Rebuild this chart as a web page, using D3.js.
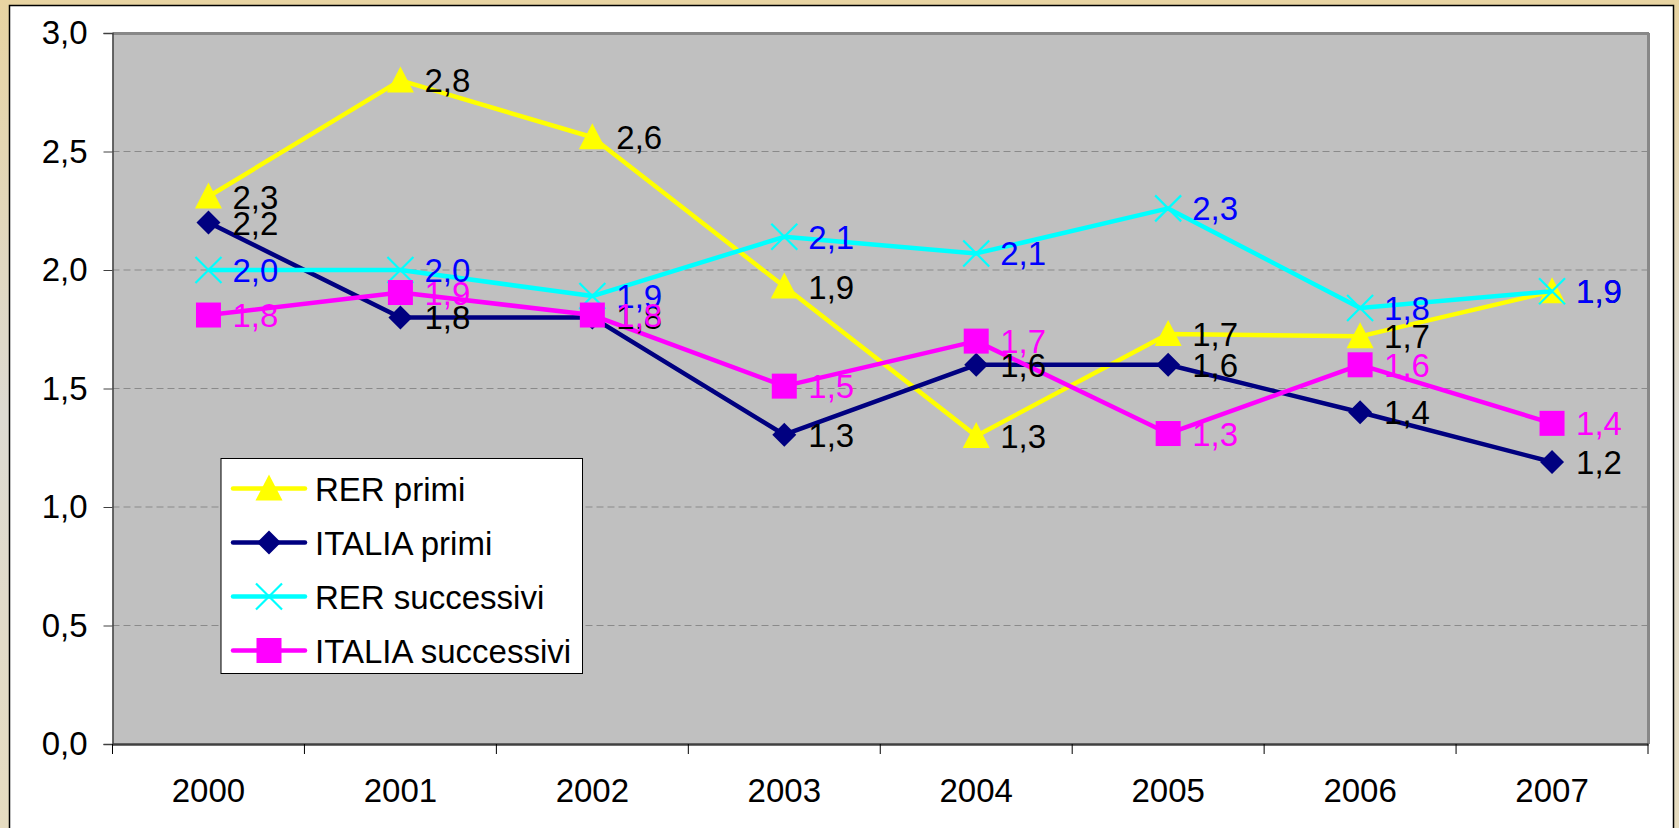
<!DOCTYPE html>
<html><head><meta charset="utf-8">
<script src="https://cdn.jsdelivr.net/npm/d3@7"></script>
<style>
html,body{margin:0;padding:0;}
body{width:1679px;height:828px;overflow:hidden;}
svg{display:block;}
</style></head>
<body>
<svg id="chart" width="1679" height="828"></svg>
<script>
const years = ["2000","2001","2002","2003","2004","2005","2006","2007"];
const rerPrimi = [2.31, 2.80, 2.56, 1.93, 1.30, 1.73, 1.72, 1.91];
const italiaPrimi = [2.20, 1.80, 1.80, 1.305, 1.60, 1.60, 1.40, 1.19];
const rerSuccessivi = [2.00, 2.00, 1.89, 2.14, 2.07, 2.26, 1.84, 1.91];
const italiaSuccessivi = [1.81, 1.905, 1.81, 1.51, 1.70, 1.31, 1.60, 1.353];
const yTicks = [0, 0.5, 1.0, 1.5, 2.0, 2.5, 3.0];
const seriesNames = ["RER primi", "ITALIA primi", "RER successivi", "ITALIA successivi"];

const series = [
  {name: seriesNames[0], values: rerPrimi, color: "#ffff00", label: "#000000", marker: "triangle"},
  {name: seriesNames[1], values: italiaPrimi, color: "#000080", label: "#000000", marker: "diamond"},
  {name: seriesNames[2], values: rerSuccessivi, color: "#00ffff", label: "#0000ff", marker: "cross"},
  {name: seriesNames[3], values: italiaSuccessivi, color: "#ff00ff", label: "#ff00ff", marker: "square"}
];

const svg = d3.select("#chart");
const FONT = "'Liberation Sans', Arial, sans-serif";
const FS = 33;

// background gradient
const defs = svg.append("defs");
const grad = defs.append("linearGradient").attr("id","bg").attr("x1",0).attr("y1",0).attr("x2",0).attr("y2",1);
grad.append("stop").attr("offset","0%").attr("stop-color","#e8d4a2");
grad.append("stop").attr("offset","50%").attr("stop-color","#dddad2");
grad.append("stop").attr("offset","100%").attr("stop-color","#e6dcc0");
svg.append("rect").attr("width",1679).attr("height",828).attr("fill","url(#bg)");
// white chart panel
svg.append("rect").attr("x",9.5).attr("y",5.5).attr("width",1664).attr("height",830)
  .attr("fill","#ffffff").attr("stroke","#000").attr("stroke-width",1.5);

const L = 112.5, R = 1648, T = 33, B = 744;
const x = d3.scaleBand().domain(years).range([L, R]).padding(0);
const y = d3.scaleLinear().domain([0, 3]).range([B, T]);
const cx = d => x(d) + x.bandwidth()/2;

// plot area
svg.append("rect").attr("x",L).attr("y",T).attr("width",R-L).attr("height",B-T).attr("fill","#c0c0c0");

// gridlines
svg.append("g").selectAll("line").data(yTicks.filter(t => t > 0 && t < 3)).join("line")
  .attr("x1",L).attr("x2",R).attr("y1",d=>y(d)).attr("y2",d=>y(d))
  .attr("stroke","#8a8a8a").attr("stroke-width",1).attr("stroke-dasharray","7,4");

// plot border top/right
svg.append("line").attr("x1",L).attr("x2",R+1).attr("y1",T+0.5).attr("y2",T+0.5).attr("stroke","#888").attr("stroke-width",3);
svg.append("line").attr("x1",R+0.5).attr("x2",R+0.5).attr("y1",T).attr("y2",B).attr("stroke","#888").attr("stroke-width",3);

// y axis
const yAxis = d3.axisLeft(y).tickValues(yTicks).tickSize(9).tickPadding(16)
  .tickFormat(d => d3.format(".1f")(d).replace(".", ","));
const gy = svg.append("g").attr("transform",`translate(${L},0)`).call(yAxis);
gy.select(".domain").attr("stroke","#404040").attr("stroke-width",1.5);
gy.selectAll(".tick line").attr("stroke","#404040");
gy.selectAll("text").attr("font-family",FONT).attr("font-size",FS).attr("fill","#000");

// x axis
const xAxis = d3.axisBottom(x).tickSize(0).tickPadding(35);
const gx = svg.append("g").attr("transform",`translate(0,${B})`).call(xAxis);
gx.select(".domain").attr("stroke","#404040").attr("stroke-width",2.5);
gx.selectAll("text").attr("font-family",FONT).attr("font-size",FS).attr("fill","#000");
// category boundary ticks
const bounds = years.map(d => x(d)).concat([R]);
svg.append("g").selectAll("line").data(bounds).join("line")
  .attr("x1",d=>d).attr("x2",d=>d).attr("y1",B).attr("y2",B+10)
  .attr("stroke","#000").attr("stroke-width",1);

function drawMarker(g, type, color) {
  if (type === "triangle") {
    g.append("path").attr("d","M0,-14L13.5,12L-13.5,12Z").attr("fill",color);
  } else if (type === "diamond") {
    g.append("path").attr("d","M0,-12L12,0L0,12L-12,0Z").attr("fill",color);
  } else if (type === "square") {
    g.append("rect").attr("x",-12.5).attr("y",-12.5).attr("width",25).attr("height",25).attr("fill",color);
  } else if (type === "cross") {
    g.append("path").attr("d","M-13,-13L13,13M13,-13L-13,13").attr("stroke",color).attr("stroke-width",2.2).attr("fill","none");
  }
}

const line = d3.line().x((d,i)=>cx(years[i])).y(d=>y(d));
series.forEach(s => {
  svg.append("path").datum(s.values).attr("d",line).attr("fill","none")
    .attr("stroke",s.color).attr("stroke-width",4.5).attr("stroke-linejoin","round");
  s.values.forEach((v,i) => {
    const g = svg.append("g").attr("transform",`translate(${cx(years[i])},${y(v)})`);
    drawMarker(g, s.marker, s.color);
  });
});
// data labels
series.forEach(s => {
  svg.append("g").selectAll("text").data(s.values).join("text")
    .attr("x",(d,i)=>cx(years[i]) + 24).attr("y",d=>y(d) + 12)
    .attr("font-family",FONT).attr("font-size",FS).attr("fill",s.label)
    .text(d => d.toFixed(1).replace(".", ","));
});

// legend
const lg = svg.append("g");
lg.append("rect").attr("x",221).attr("y",458.5).attr("width",361.5).attr("height",215)
  .attr("fill","#fff").attr("stroke","#000").attr("stroke-width",1);
series.forEach((s,i) => {
  const ly = 488.5 + i*54;
  lg.append("line").attr("x1",233).attr("x2",305).attr("y1",ly).attr("y2",ly)
    .attr("stroke",s.color).attr("stroke-width",4.5).attr("stroke-linecap","round");
  const g = lg.append("g").attr("transform",`translate(269,${ly})`);
  drawMarker(g, s.marker, s.color);
  lg.append("text").attr("x",315).attr("y",ly+12).attr("font-family",FONT).attr("font-size",FS)
    .attr("fill","#000").text(s.name);
});
</script>
</body></html>
